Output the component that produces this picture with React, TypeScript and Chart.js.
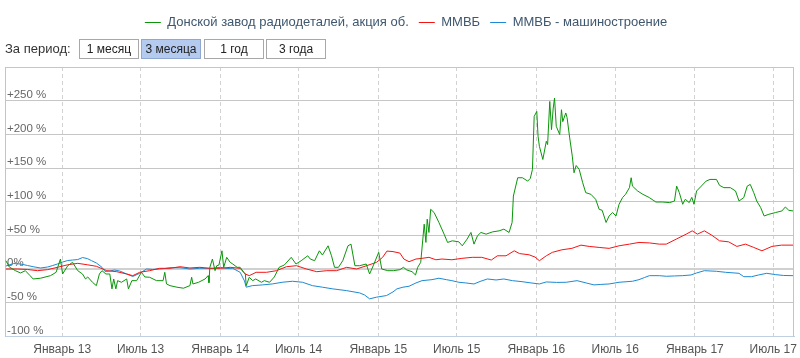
import React, { useEffect, useRef } from 'react';
import { Chart, registerables } from 'chart.js';

Chart.register(...registerables);

// ---------- DATA ----------
const seriesNames = ['Донской завод радиодеталей, акция об.', 'ММВБ', 'ММВБ - машиностроение'];
const seriesColors = ['#0a960a', '#f51414', '#1c8ad2'];

const axisMinDate = '2012-08-22';
const axisMaxDate = '2017-08-18';

const tickDates = ['2013-01-01', '2013-07-01', '2014-01-01', '2014-07-01', '2015-01-01', '2015-07-01', '2016-01-01', '2016-07-01', '2017-01-01', '2017-07-01'];
const tickLabels = ['Январь 13', 'Июль 13', 'Январь 14', 'Июль 14', 'Январь 15', 'Июль 15', 'Январь 16', 'Июль 16', 'Январь 17', 'Июль 17'];

const yMin = -100;
const yMax = 300;
const yStep = 50;

const periodButtons = ['1 месяц', '3 месяца', '1 год', '3 года'];
const selectedPeriod = 1;

const greenDates = [
  '2012-08-24', '2012-09-01', '2012-09-15', '2012-09-27', '2012-10-08', '2012-10-19', '2012-10-26', '2012-11-12', '2012-12-05', '2012-12-18',
  '2012-12-28', '2013-01-02', '2013-01-14', '2013-01-25', '2013-02-06', '2013-02-17', '2013-02-24', '2013-03-01', '2013-03-12', '2013-03-21',
  '2013-03-28', '2013-04-03', '2013-04-12', '2013-04-21', '2013-04-26', '2013-04-30', '2013-05-05', '2013-05-09', '2013-05-18', '2013-05-30',
  '2013-06-03', '2013-06-11', '2013-06-22', '2013-07-03', '2013-07-11', '2013-07-22', '2013-08-07', '2013-08-22', '2013-08-26', '2013-08-30',
  '2013-09-07', '2013-09-23', '2013-10-08', '2013-10-23', '2013-10-27', '2013-10-30', '2013-11-12', '2013-11-27', '2013-12-04', '2013-12-06',
  '2013-12-08', '2013-12-14', '2013-12-20', '2013-12-24', '2013-12-29', '2014-01-05', '2014-01-09', '2014-01-16', '2014-01-24', '2014-01-30',
  '2014-02-09', '2014-02-16', '2014-02-24', '2014-02-28', '2014-03-02', '2014-03-09', '2014-03-17', '2014-03-24', '2014-04-06', '2014-04-13',
  '2014-04-25', '2014-05-06', '2014-05-17', '2014-05-29', '2014-06-14', '2014-06-25', '2014-07-07', '2014-07-22', '2014-07-28', '2014-08-07',
  '2014-08-18', '2014-08-25', '2014-09-07', '2014-09-15', '2014-09-22', '2014-10-01', '2014-10-11', '2014-10-23', '2014-10-30', '2014-11-08',
  '2014-11-19', '2014-12-04', '2014-12-12', '2014-12-19', '2015-01-02', '2015-01-09', '2015-01-23', '2015-02-05', '2015-02-20', '2015-02-28',
  '2015-03-08', '2015-03-20', '2015-03-28', '2015-04-02', '2015-04-09', '2015-04-17', '2015-04-21', '2015-04-24', '2015-04-28', '2015-05-02',
  '2015-05-10', '2015-05-21', '2015-06-02', '2015-06-10', '2015-06-21', '2015-07-06', '2015-07-14', '2015-07-25', '2015-08-03', '2015-08-10',
  '2015-08-18', '2015-08-26', '2015-09-07', '2015-09-22', '2015-10-07', '2015-10-18', '2015-10-30', '2015-11-06', '2015-11-09', '2015-11-19',
  '2015-11-30', '2015-12-12', '2015-12-18', '2015-12-23', '2015-12-27', '2016-01-02', '2016-01-05', '2016-01-08', '2016-01-16', '2016-01-24',
  '2016-01-27', '2016-02-01', '2016-02-05', '2016-02-09', '2016-02-12', '2016-02-16', '2016-02-24', '2016-02-28', '2016-03-02', '2016-03-09',
  '2016-03-12', '2016-03-18', '2016-03-24', '2016-03-28', '2016-04-02', '2016-04-09', '2016-04-17', '2016-04-24', '2016-05-06', '2016-05-17',
  '2016-05-25', '2016-06-01', '2016-06-10', '2016-06-17', '2016-06-25', '2016-07-03', '2016-07-10', '2016-07-18', '2016-07-25', '2016-08-03',
  '2016-08-07', '2016-08-10', '2016-08-22', '2016-09-03', '2016-09-18', '2016-10-03', '2016-10-18', '2016-11-04', '2016-11-15', '2016-11-20',
  '2016-11-26', '2016-12-04', '2016-12-10', '2016-12-19', '2016-12-25', '2016-12-30', '2017-01-05', '2017-01-16', '2017-01-27', '2017-02-05',
  '2017-02-20', '2017-02-27', '2017-03-09', '2017-03-24', '2017-04-05', '2017-04-13', '2017-04-24', '2017-05-02', '2017-05-09', '2017-05-17',
  '2017-05-24', '2017-06-02', '2017-06-10', '2017-06-21', '2017-07-06', '2017-07-21', '2017-07-29', '2017-08-06', '2017-08-16',
];
const greenValues = [
  12.6, 3.2, -2.2, -5.6, -2.2, -9.6, -14.5, -13.4, -9.6, -4.6,
  15.1, -7.1, 5.2, 10.2, -2.2, -7.1, -14.5, -11.5, -19.4, -24.4,
  -7.1, -2.2, -7.1, -7.1, -29.2, -14.5, -29.2, -17, -19.4, -14.5,
  -29.2, -17, -17, -4.6, -11.5, -12, -17, -17, -4.6, -21.9,
  -24.4, -26.7, -28.2, -24.4, -12, -21.9, -19.4, -14.5, -9.6, -20,
  2.8, 15.1, -2.2, 5.2, 6.2, 27.3, 2.8, 17.6, 10.2, 7.7,
  2.8, 2.8, -4.6, -7.1, -24.4, -12, -17, -14.5, -19.4, -17,
  -19.4, -11.5, 2.8, 6.2, 17.6, 7.7, 12.6, 19.9, 15.1, 12.6,
  27.3, 21, 34.7, 19.9, 2.8, 2.8, 12.6, 34.7, 37.2, 5.2,
  5.2, 7.7, -7.1, 3.2, 25, 0.3, -2.2, -2.2, -0.7, 2.8,
  -1.2, -3.7, -8.6, 2.8, 10.2, 66.8, 39.7, 74.2, 54.5, 88.9,
  84, 69.3, 52, 39.7, 42.1, 40.6, 34.7, 44.6, 54.5, 37.2,
  49.5, 54.5, 52, 55.4, 56.9, 59.4, 54.5, 69.3, 108.6, 135.7,
  135.7, 130.7, 134.7, 148, 226.7, 234.1, 197.2, 182.4, 162.8, 189.8,
  184.9, 248.9, 207.1, 239.1, 253.9, 212, 199.7, 236.6, 218.9, 231.8,
  224.8, 194.8, 167.7, 143.1, 153.9, 148, 128.4, 113.6, 111.1, 103.7,
  88.9, 87.4, 69.3, 79, 84, 79, 96.3, 106.2, 111.1, 121,
  135.7, 123.3, 116, 111.1, 106.2, 99.7, 99.7, 98.8, 101.2, 123.3,
  114, 96.3, 103.7, 98.8, 106.6, 96.3, 116, 123.3, 130.7, 133.2,
  133.2, 124.4, 121, 121, 116, 101.2, 106.2, 123.3, 125.8, 113.6,
  101.2, 91.4, 79, 81.5, 84, 86.4, 92.3, 87.4, 86.4,
];

const redDates = [
  '2012-08-24', '2012-09-20', '2012-10-13', '2012-11-05', '2012-11-28', '2012-12-21', '2013-01-14', '2013-02-06', '2013-02-28', '2013-03-21',
  '2013-04-14', '2013-05-07', '2013-05-30', '2013-06-13', '2013-06-29', '2013-07-22', '2013-08-14', '2013-09-07', '2013-09-30', '2013-10-23',
  '2013-11-15', '2013-12-08', '2014-01-01', '2014-01-24', '2014-02-16', '2014-02-28', '2014-03-09', '2014-03-25', '2014-04-18', '2014-05-11',
  '2014-06-03', '2014-06-26', '2014-07-19', '2014-08-12', '2014-09-04', '2014-09-27', '2014-10-20', '2014-11-12', '2014-12-05', '2014-12-28',
  '2015-01-11', '2015-01-21', '2015-02-04', '2015-02-20', '2015-03-01', '2015-03-13', '2015-03-29', '2015-04-12', '2015-04-28', '2015-05-14',
  '2015-05-28', '2015-06-20', '2015-07-13', '2015-08-06', '2015-08-28', '2015-09-19', '2015-10-03', '2015-10-23', '2015-11-11', '2015-11-23',
  '2015-12-15', '2015-12-29', '2016-01-08', '2016-01-24', '2016-02-07', '2016-02-29', '2016-03-23', '2016-04-13', '2016-05-02', '2016-05-25',
  '2016-06-17', '2016-07-10', '2016-08-03', '2016-08-25', '2016-09-18', '2016-10-11', '2016-10-27', '2016-11-19', '2016-12-12', '2016-12-26',
  '2017-01-07', '2017-01-23', '2017-02-09', '2017-02-27', '2017-03-20', '2017-04-08', '2017-04-28', '2017-05-17', '2017-06-05', '2017-06-28',
  '2017-07-20', '2017-08-16',
];
const redValues = [
  0.3, 0.3, -0.4, -2.2, -0.7, 2.8, 6.6, 8.7, 6.6, 4.3,
  -2.2, -3.7, -7.1, -9.6, -4.6, -2.2, 1.3, 1.3, 3.7, 1.8,
  2.8, 1.3, 1.3, 2.8, 1.3, -7.1, -9.6, -4.6, -4.6, -2.2,
  3.7, 5.2, 0.3, -3.7, -2.2, -2.2, 2.8, 0.3, 5.2, 10.2,
  17.6, 26.9, 26.1, 23.9, 15.1, 11.1, 15.1, 16.1, 17.6, 14,
  15.1, 14, 16.1, 17.6, 17.6, 13.6, 19.9, 19.9, 27.3, 23.2,
  21.4, 18, 12.6, 19.9, 25, 28.8, 30.9, 35.7, 33.8, 32.3,
  30.9, 34.7, 37.2, 39.7, 39, 37.2, 37.2, 44.6, 52, 56.9,
  52, 56.9, 50.5, 42.1, 40.6, 33.8, 37.2, 32.3, 27.3, 33.8,
  35.7, 35.7,
];

const blueDates = [
  '2012-08-24', '2012-09-11', '2012-09-27', '2012-10-13', '2012-10-26', '2012-11-12', '2012-11-28', '2012-12-09', '2012-12-21', '2013-01-02',
  '2013-01-14', '2013-01-25', '2013-02-06', '2013-02-17', '2013-02-28', '2013-03-10', '2013-03-21', '2013-04-03', '2013-04-10', '2013-04-21',
  '2013-05-02', '2013-05-14', '2013-05-30', '2013-06-13', '2013-06-29', '2013-07-15', '2013-07-29', '2013-08-14', '2013-08-26', '2013-09-07',
  '2013-09-30', '2013-10-23', '2013-11-15', '2013-12-15', '2014-01-01', '2014-01-17', '2014-01-30', '2014-02-16', '2014-02-26', '2014-03-02',
  '2014-03-16', '2014-04-09', '2014-05-01', '2014-05-24', '2014-06-17', '2014-07-10', '2014-08-02', '2014-08-25', '2014-09-18', '2014-10-20',
  '2014-11-19', '2014-11-30', '2014-12-12', '2014-12-28', '2015-01-20', '2015-02-04', '2015-02-13', '2015-02-27', '2015-03-13', '2015-03-29',
  '2015-04-12', '2015-05-05', '2015-05-21', '2015-06-07', '2015-06-20', '2015-07-06', '2015-07-22', '2015-08-10', '2015-08-24', '2015-09-10',
  '2015-09-30', '2015-10-18', '2015-11-07', '2015-11-29', '2015-12-20', '2016-01-08', '2016-01-24', '2016-02-17', '2016-03-10', '2016-04-04',
  '2016-04-25', '2016-05-13', '2016-05-29', '2016-06-17', '2016-07-10', '2016-08-10', '2016-08-25', '2016-09-07', '2016-09-18', '2016-10-11',
  '2016-10-27', '2016-11-15', '2016-12-03', '2016-12-23', '2017-01-05', '2017-01-23', '2017-02-20', '2017-03-13', '2017-04-13', '2017-04-24',
  '2017-05-12', '2017-05-28', '2017-06-16', '2017-07-07', '2017-07-25', '2017-08-16',
];
const blueValues = [
  4.7, 8.4, 7.7, 5.5, 3.7, 1.8, 3.2, 5.2, 7.7, 10.6,
  12.9, 13.6, 14.3, 17.3, 15.8, 12.6, 9.2, 2.8, -3.4, -2.7,
  -1.2, -2.7, -7.1, -10.8, -6.1, 0.3, -0.4, 0.3, 1, 2.2,
  2.2, 0.3, 1.3, 1.3, 2.8, 1, 1.3, -4.6, -17.4, -26.7,
  -24.4, -23.3, -21.9, -19.4, -17.9, -19.4, -24.4, -26.7, -29.2, -31.8,
  -35.2, -38.1, -44, -41.5, -39.1, -33.7, -29.2, -26.7, -25.3, -20.4,
  -17, -15.5, -13.4, -15.5, -17, -19.4, -20.4, -21.9, -18.2, -14.5,
  -16, -14.5, -17, -18.5, -20.4, -21.9, -18.9, -19.6, -19.4, -17,
  -20.4, -23.3, -22.6, -21.9, -19.4, -17.9, -15.5, -12.3, -9.6, -9.6,
  -10.5, -10, -9.6, -8.6, -5.6, -2.2, -3.1, -4.6, -6.1, -11.1,
  -11.1, -8.6, -6.1, -8.1, -9.3, -9.6,
];

// ---------- helpers ----------
const FONT = '"Liberation Sans", Arial, Helvetica, sans-serif';

const toPoints = (dates: string[], values: number[]) =>
  dates.map((d, i) => ({ x: Date.parse(d), y: values[i] })).sort((a, b) => a.x - b.x);

const formatY = (v: number): string => {
  if (v === yMax) return '';
  if (v > 0) return `+${v} %`;
  if (v === 0) return '0%';
  return `${v} %`;
};

const framePlugin = {
  id: 'frameRight',
  afterLayout(chart: any) {
    const lg = chart.legend;
    if (lg) {
      lg.left += 8;
      lg.right += 8;
    }
  },
  afterDatasetsDraw(chart: any) {
    const { ctx, chartArea } = chart;
    ctx.save();
    ctx.strokeStyle = '#c4c4c4';
    ctx.lineWidth = 1;
    ctx.beginPath();
    ctx.moveTo(Math.round(chartArea.right) - 0.5, chartArea.top);
    ctx.lineTo(Math.round(chartArea.right) - 0.5, chartArea.bottom);
    ctx.stroke();
    ctx.restore();
  },
};

export default function App() {
  const canvasRef = useRef<HTMLCanvasElement | null>(null);

  useEffect(() => {
    const canvas = canvasRef.current;
    if (!canvas) return;
    const allSeries = [
      toPoints(greenDates, greenValues),
      toPoints(redDates, redValues),
      toPoints(blueDates, blueValues),
    ];
    const chart = new Chart(canvas, {
      type: 'line',
      data: {
        datasets: allSeries.map((pts, i) => ({
          label: seriesNames[i],
          data: pts,
          borderColor: seriesColors[i],
          backgroundColor: seriesColors[i],
          borderWidth: 1,
          pointRadius: 0,
          pointHoverRadius: 0,
          tension: 0,
          fill: false,
        })),
      },
      options: {
        animation: false,
        responsive: false,
        devicePixelRatio: 1,
        layout: { padding: { top: 6, left: 1, right: 5, bottom: -5 } },
        plugins: {
          legend: {
            display: true,
            position: 'top',
            labels: {
              usePointStyle: true,
              pointStyle: 'line',
              pointStyleWidth: 16,
              color: '#3e576f',
              font: { size: 13, family: FONT },
              padding: 10,
            },
          },
          title: {
            display: true,
            text: ' ',
            weight: 500,
            padding: { top: 0, bottom: 16 },
            font: { size: 10, family: FONT },
          },
          tooltip: { enabled: false },
        },
        scales: {
          x: {
            type: 'linear',
            min: Date.parse(axisMinDate),
            max: Date.parse(axisMaxDate),
            afterBuildTicks: (axis: any) => {
              axis.ticks = tickDates.map((d) => ({ value: Date.parse(d) }));
            },
            ticks: {
              autoSkip: false,
              maxRotation: 0,
              padding: 3,
              color: '#555',
              font: { size: 12, family: FONT, lineHeight: 1.7 },
              callback: (_v: any, i: number) => tickLabels[i],
            },
            grid: { color: '#d2d2d2', drawTicks: false, lineWidth: 1 },
            border: { display: true, color: '#c0d0e0', width: 1, dash: [4, 3] },
          },
          y: {
            min: yMin,
            max: yMax,
            ticks: {
              stepSize: yStep,
              mirror: true,
              padding: 2,
              labelOffset: -6,
              color: '#666',
              font: { size: 11.5, family: FONT },
              callback: (v: any) => formatY(Number(v)),
            },
            grid: {
              drawTicks: false,
              color: (c: any) => (c.tick && c.tick.value === 0 ? '#d0d0d0' : '#c6c6c6'),
              lineWidth: (c: any) => (c.tick && c.tick.value === 0 ? 2 : 1),
            },
            border: { display: true, color: '#c4c4c4', width: 1 },
          },
        },
      },
      plugins: [framePlugin],
    } as any);
    return () => chart.destroy();
  }, []);

  const btnBase: React.CSSProperties = {
    position: 'absolute',
    top: 39,
    width: 60,
    height: 20,
    boxSizing: 'border-box',
    border: '1px solid #a8a8a8',
    background: '#ffffff',
    fontFamily: FONT,
    fontSize: 12,
    lineHeight: '18px',
    textAlign: 'center',
    color: '#222',
  };
  const btnLefts = [79, 141, 204, 266];

  return (
    <div style={{ position: 'fixed', left: 0, top: 0, width: 800, height: 358, background: '#fff', overflow: 'hidden' }}>
      <canvas ref={canvasRef} width={800} height={358} style={{ display: 'block', width: 800, height: 358 }} />
      <div
        style={{
          position: 'absolute',
          left: 5,
          top: 40,
          fontFamily: FONT,
          fontSize: 13,
          lineHeight: '18px',
          color: '#333',
        }}
      >
        За период:
      </div>
      {periodButtons.map((b, i) => (
        <div
          key={b}
          style={{
            ...btnBase,
            left: btnLefts[i],
            background: i === selectedPeriod ? '#b4caee' : '#ffffff',
            border: i === selectedPeriod ? '1px solid #8ea8d2' : btnBase.border,
          }}
        >
          {b}
        </div>
      ))}
    </div>
  );
}
